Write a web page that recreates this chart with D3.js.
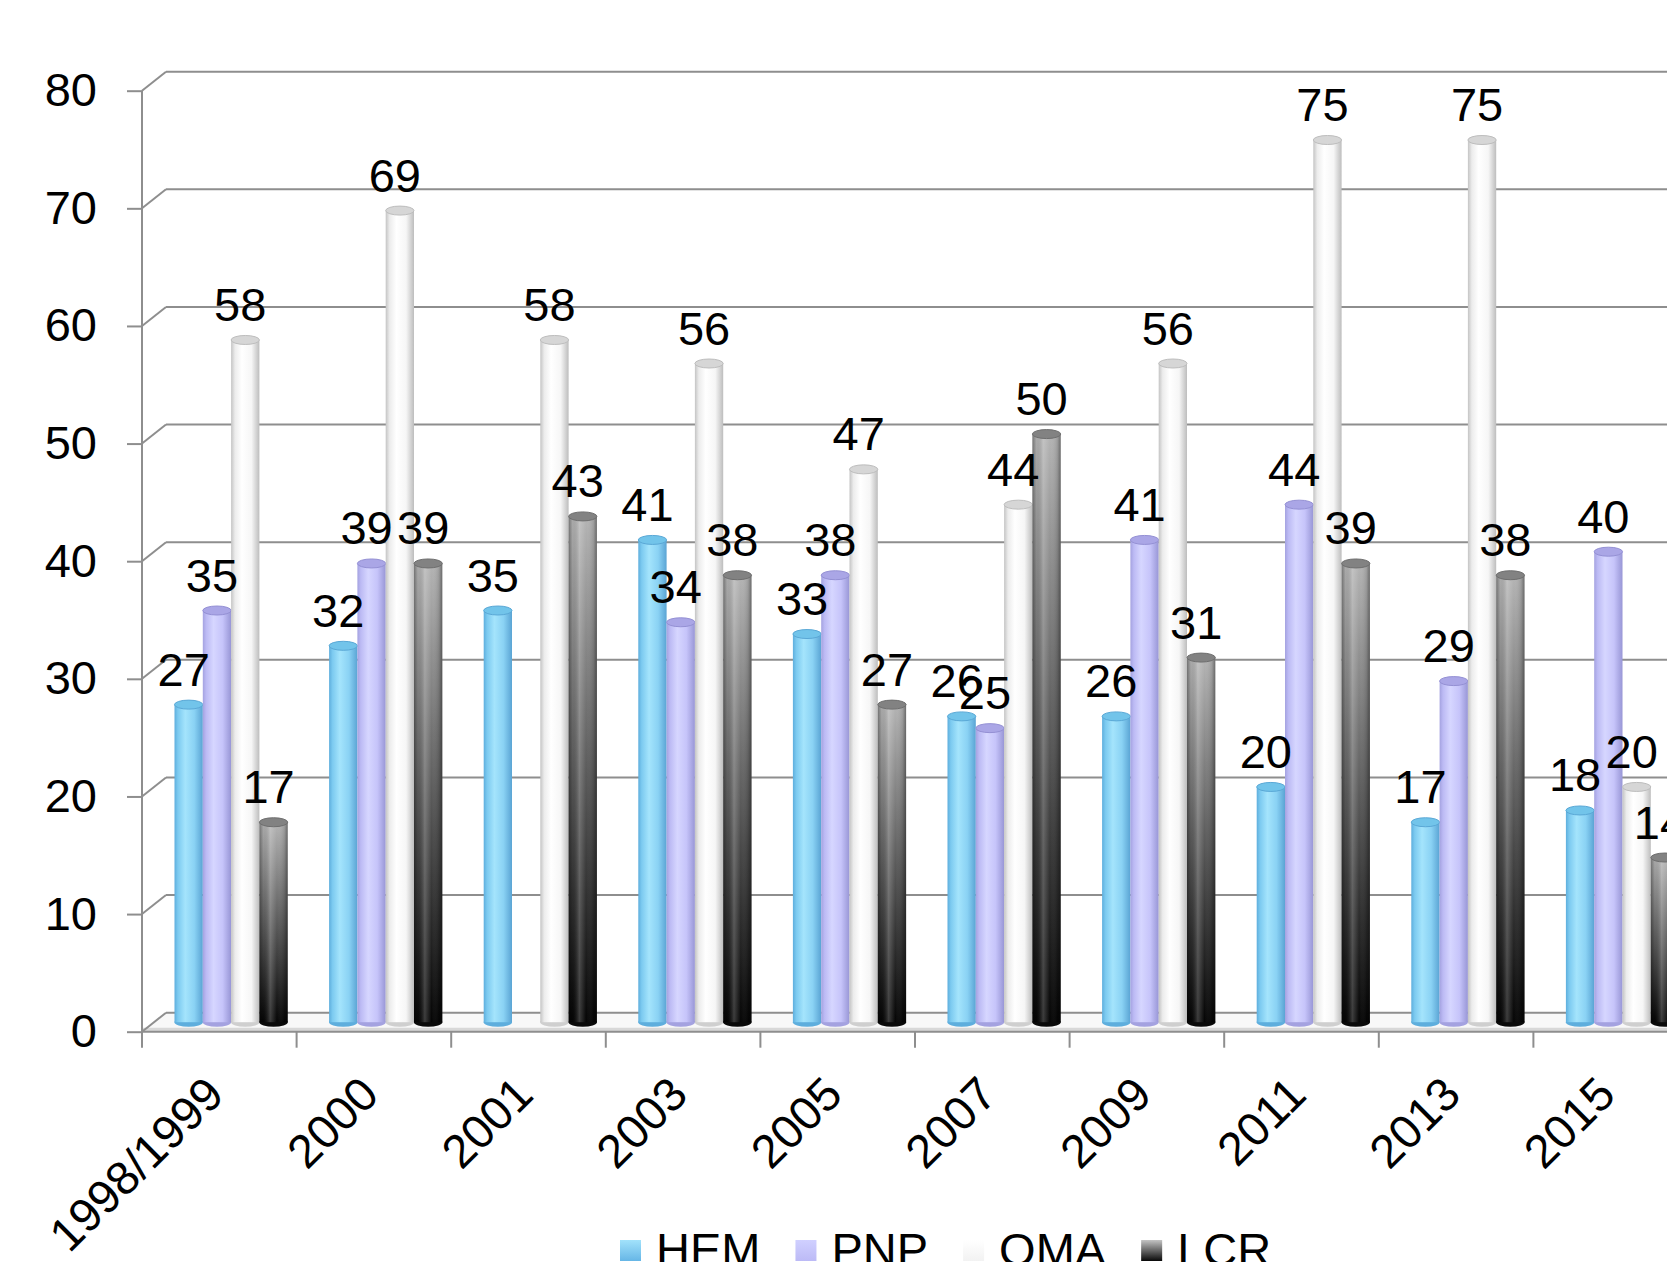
<!DOCTYPE html>
<html>
<head>
<meta charset="utf-8">
<script src="https://cdn.jsdelivr.net/npm/d3@7"></script>
<style>
  html, body { margin: 0; padding: 0; background: #fff; overflow: hidden; }
  svg { display: block; font-family: "Liberation Sans", Arial, sans-serif; }
</style>
</head>
<body>
<svg id="chart" width="1667" height="1262"></svg>
<script>
// Survey years and the four series plotted as cylinders
const categories = ["1998/1999", "2000", "2001", "2003", "2005", "2007", "2009", "2011", "2013", "2015"];
const seriesNames = ["HEM", "PNP", "OMA", "LCR"];
const hemValues = [27, 32, 35, 41, 33, 26, 26, 20, 17, 18];
const pnpValues = [35, 39, null, 34, 38, 25, 41, 44, 29, 40];
const omaValues = [58, 69, 58, 56, 47, 44, 56, 75, 75, 20];
const lcrValues = [17, 39, 43, 38, 27, 50, 31, 39, 38, 14];
const yTickValues = [0, 10, 20, 30, 40, 50, 60, 70, 80];

const seriesValues = { HEM: hemValues, PNP: pnpValues, OMA: omaValues, LCR: lcrValues };

const svg = d3.select("#chart");
const FONT = 47;

// Plot geometry: front plane of the 3D box, and the depth offset to the back wall
const x0 = 142, step = 154.6;
const DX = 24, DY = -19;
const x = d3.scaleBand().domain(categories).range([x0, x0 + step * categories.length]).padding(0);
const inner = d3.scaleBand().domain(seriesNames).range([20.5, 20.5 + 4 * 28.3]).padding(0);
const y = d3.scaleLinear().domain([0, 80]).range([1031.7, 90.7]);
const xEnd = x0 + step * categories.length;

// ---------- gradients ----------
const defs = svg.append("defs");
function hGrad(id, stops) {
  const g = defs.append("linearGradient").attr("id", id).attr("x1", 0).attr("x2", 1).attr("y1", 0).attr("y2", 0);
  stops.forEach(s => g.append("stop").attr("offset", s[0]).attr("stop-color", s[1]).attr("stop-opacity", s[2] == null ? 1 : s[2]));
}
function vGrad(id, stops) {
  const g = defs.append("linearGradient").attr("id", id).attr("x1", 0).attr("x2", 0).attr("y1", 0).attr("y2", 1);
  stops.forEach(s => g.append("stop").attr("offset", s[0]).attr("stop-color", s[1]).attr("stop-opacity", s[2] == null ? 1 : s[2]));
}
hGrad("body-HEM", [["0%", "#5eaedd"], ["12%", "#7ccaf0"], ["38%", "#a4e4fc"], ["70%", "#8ad2f4"], ["100%", "#5aa4d4"]]);
hGrad("body-PNP", [["0%", "#a4a2e0"], ["12%", "#bcbaf4"], ["38%", "#d6d6ff"], ["70%", "#c6c4fa"], ["100%", "#9896d6"]]);
hGrad("body-OMA", [["0%", "#c4c4c4"], ["14%", "#ececec"], ["38%", "#ffffff"], ["72%", "#f6f6f6"], ["100%", "#bdbdbd"]]);
vGrad("body-LCR", [["0%", "#b4b4b4"], ["45%", "#646464"], ["100%", "#050505"]]);
hGrad("shade-LCR", [["0%", "#000", 0.35], ["14%", "#000", 0.05], ["38%", "#fff", 0.22], ["62%", "#fff", 0], ["88%", "#000", 0.12], ["100%", "#000", 0.4]]);
vGrad("swatch-HEM", [["0%", "#a2e2fb"], ["100%", "#66b6e6"]]);
vGrad("swatch-PNP", [["0%", "#d0d0ff"], ["100%", "#bcbaf6"]]);
vGrad("swatch-OMA", [["0%", "#ffffff"], ["100%", "#f2f2f2"]]);
vGrad("swatch-LCR", [["0%", "#c4c4c4"], ["100%", "#080808"]]);

const topFill = { HEM: "#72c4ea", PNP: "#aaa6e6", OMA: "#d6d6d6", LCR: "#828282" };
const topStroke = { HEM: "#5aa8d6", PNP: "#9490d4", OMA: "#bdbdbd", LCR: "#6e6e6e" };
const baseFill = { HEM: "#5eaedd", PNP: "#a4a2e0", OMA: "#cfcfcf", LCR: "#0a0a0a" };

const gridColor = "#8e8e8e";

// ---------- walls, floor, gridlines ----------
const grid = svg.append("g");
// floor
grid.append("path")
  .attr("d", `M${x0},${y(0)} L${xEnd},${y(0)} L${xEnd + DX},${y(0) + DY} L${x0 + DX},${y(0) + DY} Z`)
  .attr("fill", "#f8f8f8").attr("stroke", "none");
grid.append("line")
  .attr("x1", x0).attr("x2", xEnd).attr("y1", y(0) - 2).attr("y2", y(0) - 2)
  .attr("stroke", "#d8d8d8").attr("stroke-width", 4);

// back wall horizontal lines and left wall diagonals
grid.selectAll(".back").data(yTickValues).join("line")
  .attr("x1", x0 + DX).attr("x2", xEnd + DX)
  .attr("y1", d => y(d) + DY).attr("y2", d => y(d) + DY)
  .attr("stroke", gridColor).attr("stroke-width", 2);
grid.selectAll(".side").data(yTickValues).join("line")
  .attr("x1", x0).attr("x2", x0 + DX)
  .attr("y1", d => y(d)).attr("y2", d => y(d) + DY)
  .attr("stroke", gridColor).attr("stroke-width", 2);
// front floor edge
grid.append("line")
  .attr("x1", x0).attr("x2", xEnd).attr("y1", y(0)).attr("y2", y(0))
  .attr("stroke", gridColor).attr("stroke-width", 2);

// ---------- y axis ----------
const yAxis = svg.append("g").attr("transform", `translate(${x0},0)`)
  .call(d3.axisLeft(y).tickValues(yTickValues).tickSize(15).tickSizeOuter(0).tickPadding(30).tickFormat(d3.format("d")));
yAxis.select(".domain").remove();
yAxis.selectAll(".tick line").attr("stroke", gridColor).attr("stroke-width", 2);
yAxis.selectAll(".tick text").attr("font-size", FONT).attr("fill", "#000")
  .attr("font-family", "Liberation Sans, Arial, sans-serif");
svg.append("line").attr("x1", x0).attr("x2", x0).attr("y1", y(80)).attr("y2", y(0) + 16)
  .attr("stroke", gridColor).attr("stroke-width", 2);

// ---------- x axis: tick marks at category boundaries, rotated labels ----------
const xTicks = svg.append("g");
xTicks.selectAll("line").data(categories.slice(1)).join("line")
  .attr("x1", d => x(d)).attr("x2", d => x(d))
  .attr("y1", y(0)).attr("y2", y(0) + 16)
  .attr("stroke", gridColor).attr("stroke-width", 2);

const xAxis = svg.append("g").attr("transform", `translate(7,1097)`)
  .call(d3.axisBottom(x).tickSize(0).tickPadding(0));
xAxis.select(".domain").remove();
xAxis.selectAll(".tick text")
  .attr("font-size", FONT).attr("fill", "#000")
  .attr("font-family", "Liberation Sans, Arial, sans-serif")
  .attr("dy", 0).attr("y", 0)
  .attr("text-anchor", "end")
  .attr("transform", "rotate(-45)");

// ---------- cylinders ----------
const bars = [];
categories.forEach((c, i) => {
  seriesNames.forEach(s => {
    const v = seriesValues[s][i];
    if (v == null) return;
    bars.push({ cat: c, series: s, value: v });
  });
});

const w = inner.bandwidth();
const rx = w / 2, ry = 4.5;
const midX = DX / 2, midY = DY / 2;
const left = d => x(d.cat) + inner(d.series) + midX;
const topY = d => y(d.value) + midY;
const baseY = y(0) + midY;

const barG = svg.append("g");
const cyl = barG.selectAll("g").data(bars).join("g");
cyl.append("ellipse")
  .attr("cx", d => left(d) + rx).attr("cy", baseY).attr("rx", rx).attr("ry", ry)
  .attr("fill", d => baseFill[d.series]);
cyl.append("rect")
  .attr("x", d => left(d)).attr("y", d => topY(d)).attr("width", w).attr("height", d => baseY - topY(d))
  .attr("fill", d => `url(#body-${d.series})`);
cyl.filter(d => d.series === "LCR").append("rect")
  .attr("x", d => left(d)).attr("y", d => topY(d)).attr("width", w).attr("height", d => baseY - topY(d))
  .attr("fill", "url(#shade-LCR)");
cyl.append("ellipse")
  .attr("cx", d => left(d) + rx).attr("cy", d => topY(d)).attr("rx", rx).attr("ry", ry)
  .attr("fill", d => topFill[d.series]).attr("stroke", d => topStroke[d.series]).attr("stroke-width", 1);

// ---------- value labels ----------
svg.append("g").selectAll("text").data(bars).join("text")
  .attr("x", d => left(d) + rx - 5)
  .attr("y", d => topY(d) - 19)
  .attr("text-anchor", "middle")
  .attr("font-size", FONT).attr("fill", "#000")
  .text(d => d.value);

// ---------- legend ----------
const legend = svg.append("g").attr("transform", "translate(620,0)");
let lx = 0;
seriesNames.forEach(s => {
  const item = legend.append("g").attr("transform", `translate(${lx},0)`);
  item.append("rect").attr("x", 0).attr("y", 1240).attr("width", 21).attr("height", 21)
    .attr("fill", `url(#swatch-${s})`);
  const t = item.append("text").attr("x", 36).attr("y", 1266)
    .attr("font-size", FONT).attr("fill", "#000").text(s);
  lx += 36 + t.node().getComputedTextLength() + 35;
});
</script>
</body>
</html>
